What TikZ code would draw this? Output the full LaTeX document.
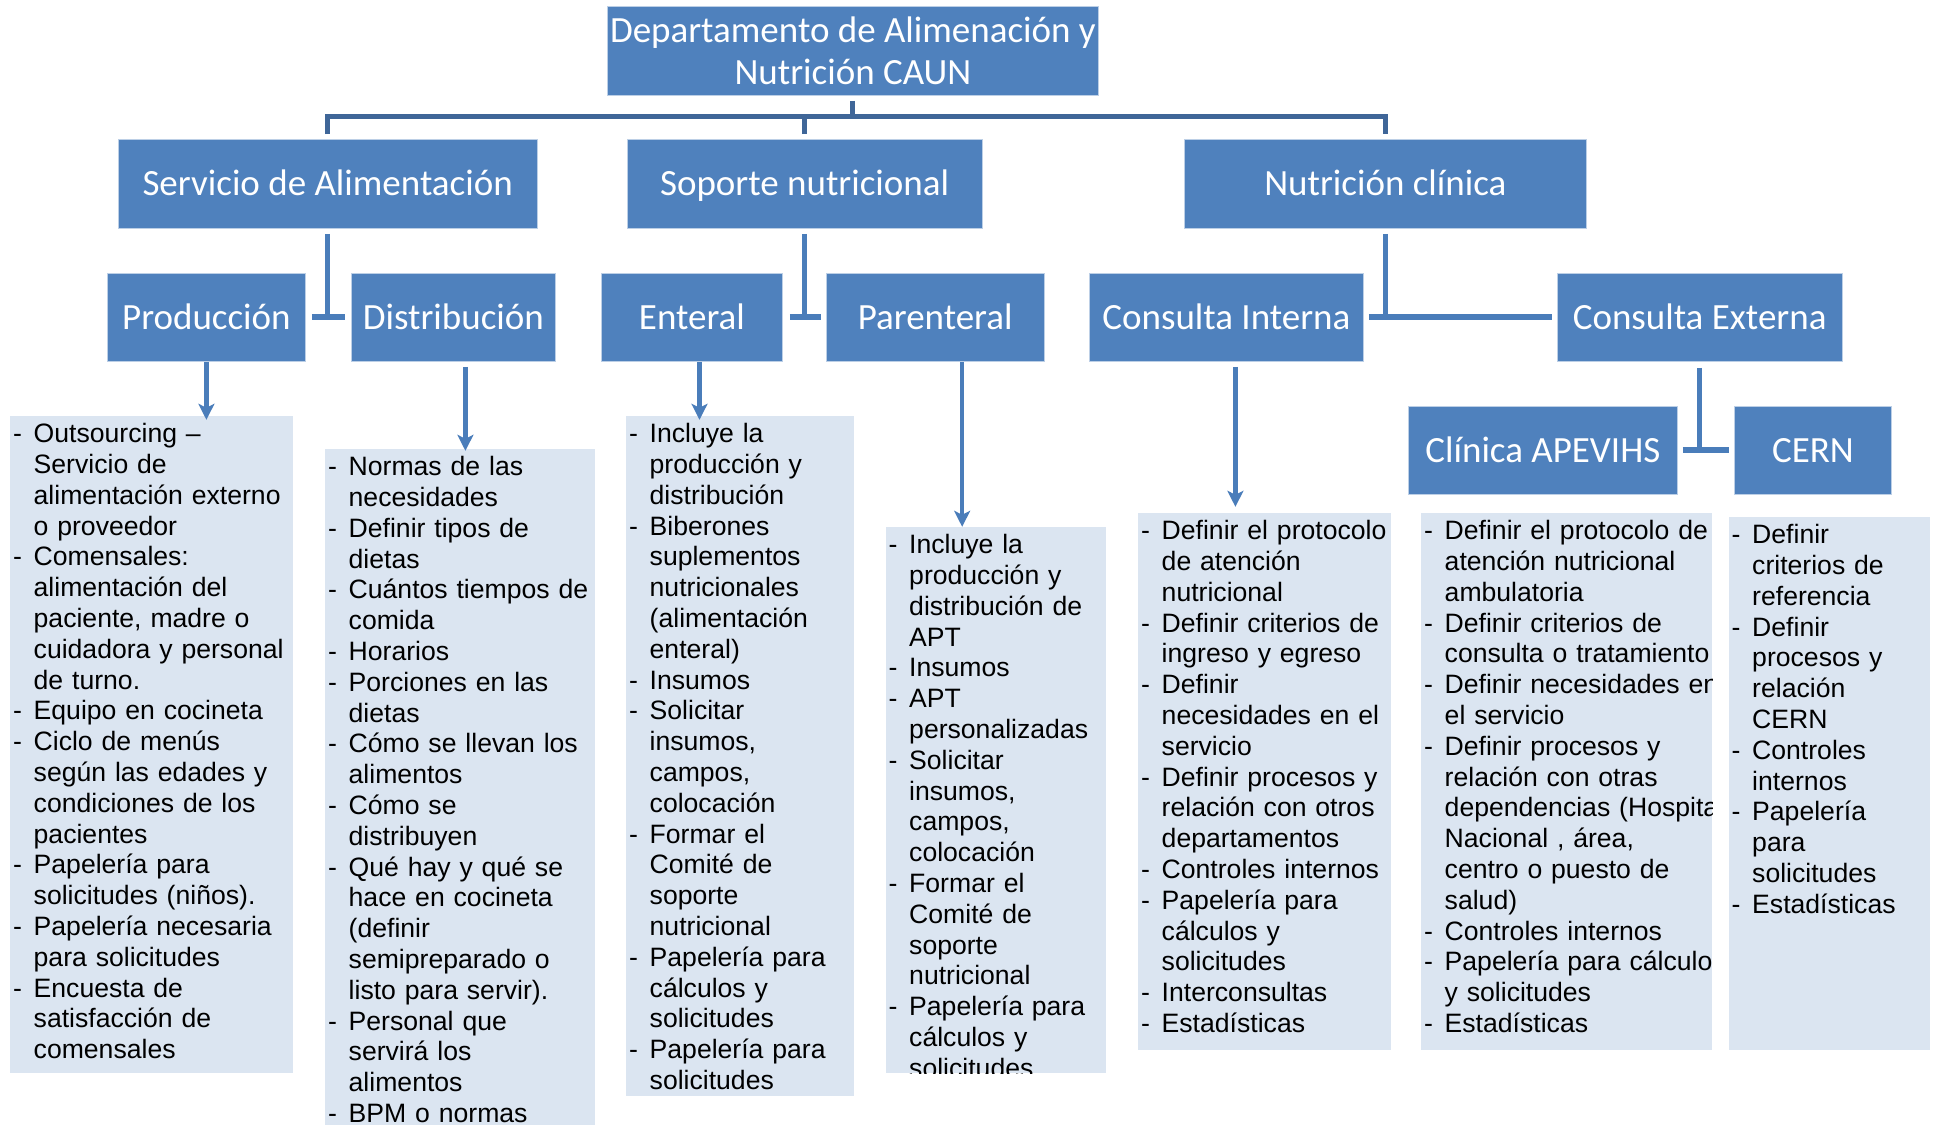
\documentclass[tikz,border=0pt]{standalone}
\usepackage{fontspec}
\setmainfont{Liberation Sans}
\newfontfamily\hdrfont{Carlito}
\usetikzlibrary{calc,arrows.meta}

\definecolor{boxblue}{HTML}{4F81BD}
\definecolor{boxedge}{HTML}{BCCFE6}
\definecolor{linkblue}{HTML}{4A7DBA}
\definecolor{darklink}{HTML}{3F6698}
\definecolor{listfill}{HTML}{DBE5F1}

% one bullet of a list: dash, then hanging indent
\newcommand\itm[1]{\par\hangindent=20.5pt\hangafter=1\noindent\makebox[20.5pt][l]{-}#1\par}

\tikzset{
  hdr/.style={fill=boxblue, draw=boxedge, line width=0.8pt, text=white,
    font=\hdrfont\fontsize{37}{42}\selectfont, inner sep=0pt,
    anchor=north west, align=center},
  onerow/.style={text height=28pt, text depth=4pt},
  listbox/.style={fill=listfill, inner sep=0pt, anchor=north west},
  listtext/.style={anchor=north west, inner sep=0pt, text width=420pt,
    font=\fontsize{26.6}{30.8}\selectfont,
    execute at begin node={\raggedright\parskip=0pt\parindent=0pt}},
  link/.style={draw=linkblue, line width=5pt},
  dlink/.style={draw=darklink, line width=5pt},
  stub/.style={draw=linkblue, line width=6pt},
  arr/.style={draw=linkblue, line width=4.5pt,
    -{Stealth[length=16pt,width=16pt,inset=4pt]}}
}

\begin{document}
\begin{tikzpicture}[x=1pt,y=-1pt]
\useasboundingbox (0,0) rectangle (1934,1124);
\clip (0,0) rectangle (1934,1124);
\fill[white] (0,0) rectangle (1934,1124);

% ---- header boxes ----
\node[hdr, minimum width=491pt, minimum height=89pt] (dep) at (607,6)
  {Departamento de Alimenación y\\Nutrición CAUN};

\node[hdr, onerow, minimum width=418.5pt, minimum height=89pt] (serv) at (118,139) {Servicio de Alimentación};
\node[hdr, onerow, minimum width=355.2pt, minimum height=89pt] (sop) at (626.6,139) {Soporte nutricional};
\node[hdr, onerow, minimum width=402pt, minimum height=89pt] (nutr) at (1184,139) {Nutrición clínica};

\node[hdr, onerow, minimum width=198pt, minimum height=88pt] (prod) at (107,273) {Producción};
\node[hdr, onerow, minimum width=204pt, minimum height=88pt] (dist) at (351,273) {Distribución};
\node[hdr, onerow, minimum width=181pt, minimum height=88pt] (ent) at (601,273) {Enteral};
\node[hdr, onerow, minimum width=217.5pt, minimum height=88pt] (par) at (826,273) {Parenteral};
\node[hdr, onerow, minimum width=274pt, minimum height=88pt] (ci) at (1089,273) {Consulta Interna};
\node[hdr, onerow, minimum width=284.5pt, minimum height=88pt] (ce) at (1557,273) {Consulta Externa};

\node[hdr, onerow, minimum width=269pt, minimum height=88pt] (apev) at (1408,406) {Clínica APEVIHS};
\node[hdr, onerow, minimum width=157pt, minimum height=88pt] (cern) at (1734,406) {CERN};

% ---- tree connectors ----
\draw[dlink] ($(dep.south)+(0,5)$) -- ($(dep.south)+(0,21.5)$);
\draw[dlink] ($(serv.north)+(0,-5)$) |- ($(nutr.north)+(0,-22.5)$) -- ($(nutr.north)+(0,-5)$);
\draw[dlink] ($(sop.north)+(0,-5)$) -- ($(sop.north)+(0,-22.5)$);

\draw[link] ($(serv.south)+(0,5)$) -- ($(serv.south)+(0,89)$);
\draw[stub] ($(prod.east)+(6,0)$) -- ($(dist.west)+(-6,0)$);

\draw[link] ($(sop.south)+(0,5)$) -- ($(sop.south)+(0,89)$);
\draw[stub] ($(ent.east)+(7,0)$) -- ($(par.west)+(-5,0)$);

\draw[link] ($(nutr.south)+(0,5)$) -- ($(nutr.south)+(0,89)$);
\draw[stub] ($(ci.east)+(5,0)$) -- ($(ce.west)+(-5,0)$);

\draw[link] ($(ce.south)+(0,6)$) -- ($(ce.south)+(0,89)$);
\draw[stub] ($(apev.east)+(5,0)$) -- ($(cern.west)+(-5,0)$);

% ---- list boxes ----
\node[listbox, minimum width=282.5pt, minimum height=657pt] (l1) at (10,416) {};
\node[listbox, minimum width=269.7pt, minimum height=700pt] (l2) at (325,449) {};
\node[listbox, minimum width=228pt, minimum height=680pt] (l3) at (626,416) {};
\node[listbox, minimum width=220pt, minimum height=546pt] (l4) at (885.5,527) {};
\node[listbox, minimum width=252.5pt, minimum height=537pt] (l5) at (1138,513) {};
\node[listbox, minimum width=291pt, minimum height=537pt] (l6) at (1421,513) {};
\node[listbox, minimum width=201pt, minimum height=533pt] (l7) at (1728.5,517) {};

% ---- arrows into the lists ----
\draw[arr] (prod.south) -- ($(prod.south)+(0,58)$);
\draw[arr] ($(dist.south)+(12,5)$) -- ($(dist.south)+(12,89)$);
\draw[arr] ($(ent.south)+(7.6,0)$) -- ($(ent.south)+(7.6,58)$);
\draw[arr] ($(par.south)+(27,0)$) -- ($(par.south)+(27,165)$);
\draw[arr] ($(ci.south)+(9,5)$) -- ($(ci.south)+(9,145)$);

% ---- list texts (first baseline 26.5pt below the box top) ----
\node[listtext] (t1) at ($(l1.north west)+(3,-4.3)$) {%
\itm{Outsourcing –\newline Servicio de\newline alimentación externo\newline o proveedor}%
\itm{Comensales:\newline alimentación del\newline paciente, madre o\newline cuidadora y personal\newline de turno.}%
\itm{Equipo en cocineta}%
\itm{Ciclo de menús\newline según las edades y\newline condiciones de los\newline pacientes}%
\itm{Papelería para\newline solicitudes (niños).}%
\itm{Papelería necesaria\newline para solicitudes}%
\itm{Encuesta de\newline satisfacción de\newline comensales}};

\node[listtext] (t2) at ($(l2.north west)+(3,-4.3)$) {%
\itm{Normas de las\newline necesidades}%
\itm{Definir tipos de\newline dietas}%
\itm{Cuántos tiempos de\newline comida}%
\itm{Horarios}%
\itm{Porciones en las\newline dietas}%
\itm{Cómo se llevan los\newline alimentos}%
\itm{Cómo se\newline distribuyen}%
\itm{Qué hay y qué se\newline hace en cocineta\newline (definir\newline semipreparado o\newline listo para servir).}%
\itm{Personal que\newline servirá los\newline alimentos}%
\itm{BPM o normas}};

\node[listtext] (t3) at ($(l3.north west)+(3,-4.3)$) {%
\itm{Incluye la\newline producción y\newline distribución}%
\itm{Biberones\newline suplementos\newline nutricionales\newline (alimentación\newline enteral)}%
\itm{Insumos}%
\itm{Solicitar\newline insumos,\newline campos,\newline colocación}%
\itm{Formar el\newline Comité de\newline soporte\newline nutricional}%
\itm{Papelería para\newline cálculos y\newline solicitudes}%
\itm{Papelería para\newline solicitudes}};

\begin{scope}
\clip (l4.north west) rectangle (l4.south east);
\node[listtext] (t4) at ($(l4.north west)+(3,-4.3)$) {%
\itm{Incluye la\newline producción y\newline distribución de\newline APT}%
\itm{Insumos}%
\itm{APT\newline personalizadas}%
\itm{Solicitar\newline insumos,\newline campos,\newline colocación}%
\itm{Formar el\newline Comité de\newline soporte\newline nutricional}%
\itm{Papelería para\newline cálculos y\newline solicitudes}};
\end{scope}

\node[listtext] (t5) at ($(l5.north west)+(3,-4.3)$) {%
\itm{Definir el protocolo\newline de atención\newline nutricional}%
\itm{Definir criterios de\newline ingreso y egreso}%
\itm{Definir\newline necesidades en el\newline servicio}%
\itm{Definir procesos y\newline relación con otros\newline departamentos}%
\itm{Controles internos}%
\itm{Papelería para\newline cálculos y\newline solicitudes}%
\itm{Interconsultas}%
\itm{Estadísticas}};

\begin{scope}
\clip (l6.north west) rectangle (l6.south east);
\node[listtext] (t6) at ($(l6.north west)+(3,-4.3)$) {%
\itm{Definir el protocolo de\newline atención nutricional\newline ambulatoria}%
\itm{Definir criterios de\newline consulta o tratamiento}%
\itm{Definir necesidades en\newline el servicio}%
\itm{Definir procesos y\newline relación con otras\newline dependencias (Hospital\newline Nacional , área,\newline centro o puesto de\newline salud)}%
\itm{Controles internos}%
\itm{Papelería para cálculos\newline y solicitudes}%
\itm{Estadísticas}};
\end{scope}

\node[listtext] (t7) at ($(l7.north west)+(3,-4.3)$) {%
\itm{Definir\newline criterios de\newline referencia}%
\itm{Definir\newline procesos y\newline relación\newline CERN}%
\itm{Controles\newline internos}%
\itm{Papelería\newline para\newline solicitudes}%
\itm{Estadísticas}};

\end{tikzpicture}
\end{document}
